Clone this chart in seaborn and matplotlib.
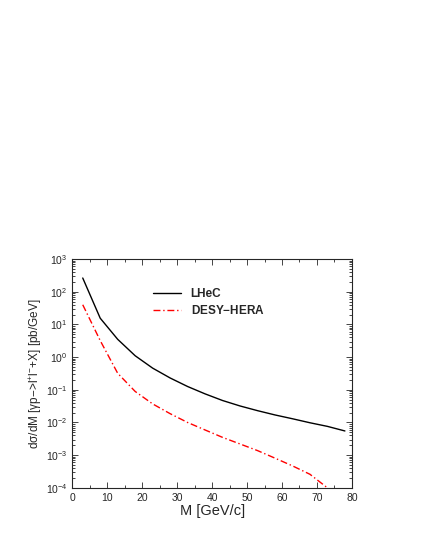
import pandas as pd
import matplotlib
matplotlib.use("Agg")
import matplotlib.pyplot as plt
from matplotlib.ticker import LogLocator, MultipleLocator, NullFormatter
import seaborn as sns

# invariant mass of the lepton pair [GeV/c]
mass = [3, 8, 13, 18, 23, 28, 33, 38, 43, 48, 53, 58, 63, 68, 73, 78]
# dsigma/dM [pb/GeV]
lhec = [263, 15.5, 3.5, 1.1, 0.46, 0.23, 0.126, 0.075, 0.047, 0.032,
        0.023, 0.017, 0.013, 0.0098, 0.0076, 0.0055]
desy_hera = [40, 3.2, 0.32, 0.089, 0.037, 0.0186, 0.010, 0.0059, 0.0035,
             0.0022, 0.00138, 0.00081, 0.00047, 0.00026, 0.0001, 0.00004]

sns.set_style("ticks")
plt.rcParams["font.family"] = ["Liberation Sans", "DejaVu Sans"]
plt.rcParams["mathtext.default"] = "regular"

df = pd.DataFrame({"M": mass + mass,
                   "xs": lhec + desy_hera,
                   "exp": ["LHeC"] * len(mass) + ["DESY-HERA"] * len(mass)})

fig = plt.figure(figsize=(4.25, 5.5), dpi=100)
ax = fig.add_axes([0.17, 0.113, 0.658, 0.416])

sns.lineplot(data=df[df.exp == "LHeC"], x="M", y="xs", color="black",
             linewidth=1.0, label="LHeC", ax=ax)
sns.lineplot(data=df[df.exp == "DESY-HERA"], x="M", y="xs", color="red",
             linewidth=1.0, label="DESY$-$HERA", ax=ax)
ax.lines[1].set_dashes([5, 2, 1, 2])

ax.set_yscale("log")
ax.set_xlim(0, 80)
ax.set_ylim(1e-4, 1e3)
ax.xaxis.set_major_locator(MultipleLocator(10))
ax.xaxis.set_minor_locator(MultipleLocator(5))
ax.yaxis.set_major_locator(LogLocator(base=10, numticks=10))
ax.yaxis.set_minor_locator(LogLocator(base=10, subs=range(2, 10), numticks=20))
ax.yaxis.set_minor_formatter(NullFormatter())
ax.tick_params(which="both", direction="in", top=True, right=True,
               labelsize=7.5, width=0.6)
ax.tick_params(which="major", length=4)
ax.tick_params(which="minor", length=2)
for s in ax.spines.values():
    s.set_linewidth(0.8)

ax.set_xlabel("M [GeV/c]", fontsize=10.5, labelpad=1)
ax.set_ylabel("dσ/dM [γp$-$>l$^{+}$l$^{-}$+X] [pb/GeV]", fontsize=8.5, labelpad=1)

leg = ax.legend(loc="upper left", bbox_to_anchor=(0.25, 0.92), frameon=False,
                handlelength=2.4, fontsize=8.5, labelspacing=0.35)
for t in leg.get_texts():
    t.set_fontweight("bold")

fig.savefig("out.png", dpi=100)
